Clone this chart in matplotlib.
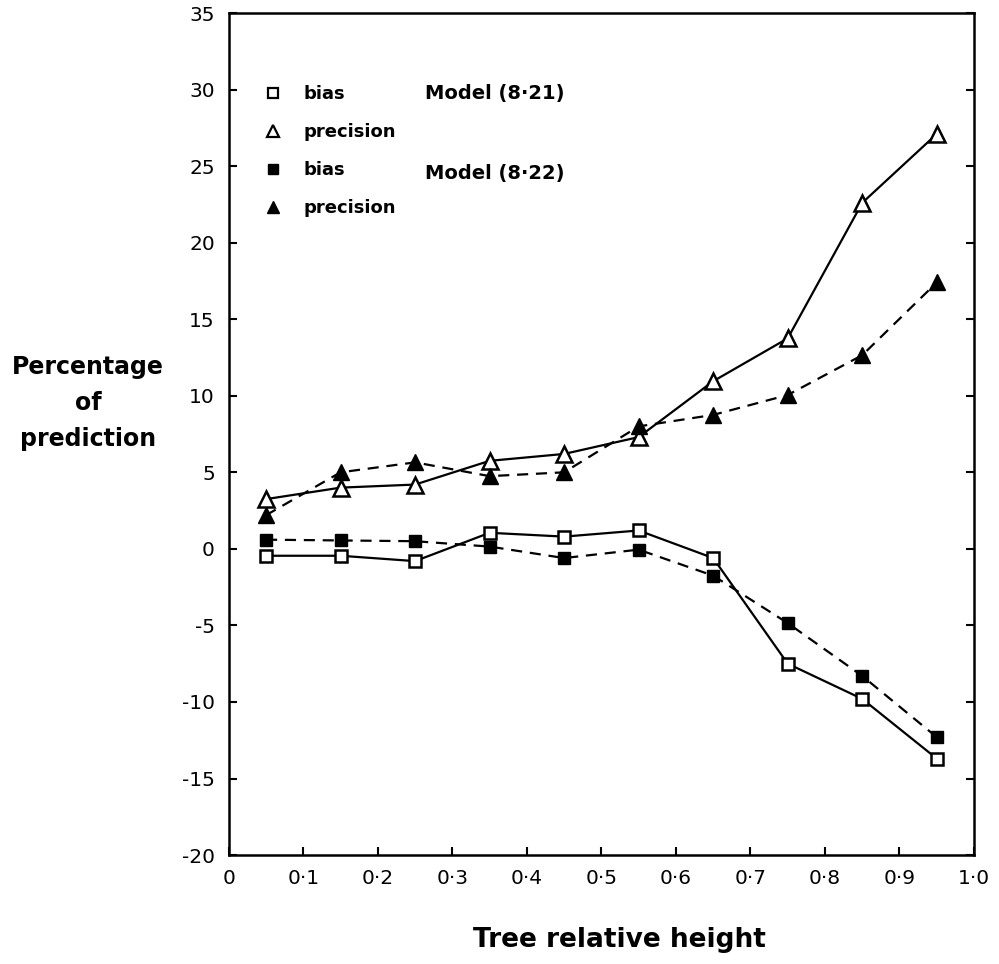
import matplotlib
matplotlib.use('Agg')
import matplotlib.pyplot as plt
from matplotlib.lines import Line2D

# relative height classes (mid points)
heights = [0.05, 0.15, 0.25, 0.35, 0.45, 0.55, 0.65, 0.75, 0.85, 0.95]

# Model (8.21)
bias_821 = [-0.45, -0.45, -0.8, 1.05, 0.8, 1.2, -0.6, -7.5, -9.8, -13.7]
prec_821 = [3.25, 4.0, 4.2, 5.75, 6.2, 7.3, 10.95, 13.75, 22.6, 27.1]

# Model (8.22)
bias_822 = [0.6, 0.55, 0.5, 0.15, -0.6, -0.05, -1.75, -4.85, -8.3, -12.3]
prec_822 = [2.2, 5.0, 5.65, 4.75, 5.0, 8.0, 8.75, 10.05, 12.65, 17.4]

xticks = [0, 0.1, 0.2, 0.3, 0.4, 0.5, 0.6, 0.7, 0.8, 0.9, 1.0]
xticklabels = ['0', '0·1', '0·2', '0·3', '0·4', '0·5', '0·6', '0·7', '0·8', '0·9', '1·0']
yticks = list(range(-20, 40, 5))

plt.rcParams['font.family'] = ['DejaVu Sans']
plt.rcParams['axes.unicode_minus'] = False

fig = plt.figure(figsize=(9.99, 9.64), dpi=100)
ax = fig.add_axes([0.229, 0.113, 0.746, 0.8735])

dash = (0, (5, 3.5))
ax.plot(heights, bias_821, color='black', lw=1.6, marker='s', ms=9,
        mfc='white', mec='black', mew=1.8)
ax.plot(heights, prec_821, color='black', lw=1.6, marker='^', ms=11,
        mfc='white', mec='black', mew=1.8)
ax.plot(heights, bias_822, color='black', lw=1.6, ls=dash, marker='s', ms=9,
        mfc='black', mec='black')
ax.plot(heights, prec_822, color='black', lw=1.6, ls=dash, marker='^', ms=11,
        mfc='black', mec='black')

ax.set_xlim(0, 1.0)
ax.set_ylim(-20, 35)
ax.set_xticks(xticks)
ax.set_xticklabels(xticklabels)
ax.set_yticks(yticks)
ax.tick_params(direction='in', length=6, width=1.5, labelsize=14.5,
               right=True, top=False, pad=10)
for s in ax.spines.values():
    s.set_linewidth(1.8)

fig.text(0.62, 0.025, 'Tree relative height', ha='center', va='center',
         fontsize=19, fontweight='bold')
fig.text(0.088, 0.582, 'Percentage\nof\nprediction', ha='center', va='center',
         fontsize=17, fontweight='bold', linespacing=1.65)

# legend
handles = [
    Line2D([], [], ls='none', marker='s', ms=7, mfc='white', mec='black', mew=1.6),
    Line2D([], [], ls='none', marker='^', ms=9, mfc='white', mec='black', mew=1.6),
    Line2D([], [], ls='none', marker='s', ms=7, mfc='black', mec='black'),
    Line2D([], [], ls='none', marker='^', ms=9, mfc='black', mec='black'),
]
labels = ['bias', 'precision', 'bias', 'precision']
leg = ax.legend(handles, labels, loc='upper left', bbox_to_anchor=(0.026, 0.9335),
                frameon=False, fontsize=13, handlelength=1.0, handletextpad=1.15,
                labelspacing=1.1)
for t in leg.get_texts():
    t.set_fontweight('bold')
ax.text(0.263, 29.75, 'Model (8·21)', fontsize=14, fontweight='bold', va='center')
ax.text(0.263, 24.55, 'Model (8·22)', fontsize=14, fontweight='bold', va='center')

fig.savefig('out.png', dpi=100)
